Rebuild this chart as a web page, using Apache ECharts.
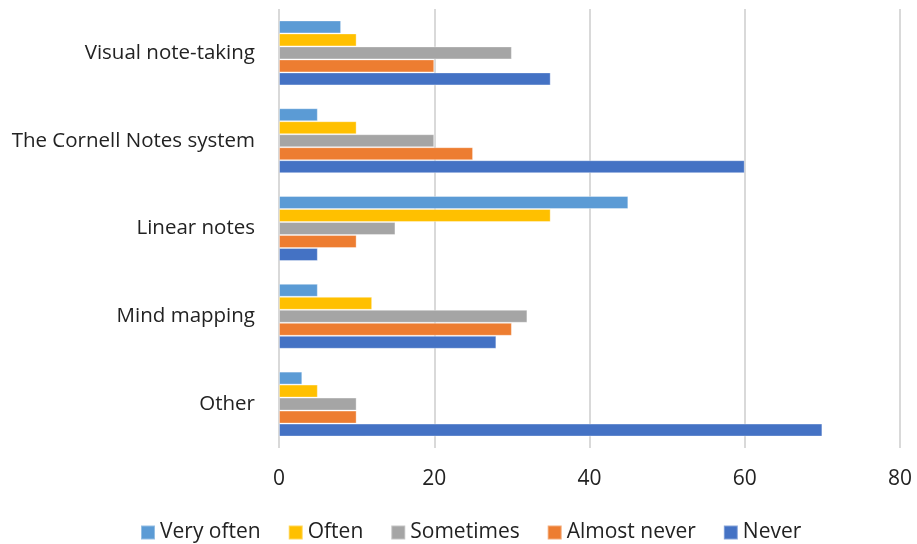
<!DOCTYPE html>
<html>
<head>
<meta charset="utf-8">
<script src="https://cdn.jsdelivr.net/npm/echarts@6/dist/echarts.min.js"></script>
<style>
  html, body { margin: 0; padding: 0; background: #fff; }
  #chart { width: 917px; height: 544px; }
</style>
</head>
<body>
<div id="chart"></div>
<script>
// categories bottom -> top (ECharts category axis starts at the bottom)
const categories = ['Other', 'Mind mapping', 'Linear notes', 'The Cornell Notes system', 'Visual note-taking']

const veryOften = [3, 5, 45, 5, 8]
const often = [5, 12, 35, 10, 10]
const sometimes = [10, 32, 15, 20, 30]
const almostNever = [10, 30, 10, 25, 20]
const never = [70, 28, 5, 60, 35]

const legendOrder = ['Very often', 'Often', 'Sometimes', 'Almost never', 'Never']

const font = '"Open Sans", Lato, sans-serif'

const chart = echarts.init(document.getElementById('chart'))

const bar = (name, data, color) => ({
  name,
  type: 'bar',
  data,
  barGap: '0%',
  barCategoryGap: '26%',
  itemStyle: { color, borderColor: 'rgba(255,255,255,0.35)', borderWidth: 1 }
})

chart.setOption({
  animation: false,
  textStyle: { fontFamily: font },
  grid: { left: 279, right: 17, top: 9, bottom: 96 },
  legend: {
    data: legendOrder,
    top: 522,
    left: 140,
    padding: 0,
    itemWidth: 14,
    itemHeight: 14,
    itemGap: 27,
    icon: 'rect',
    textStyle: { fontSize: 21, color: '#222', fontFamily: font }
  },
  xAxis: {
    type: 'value',
    min: 0,
    max: 80,
    interval: 20,
    axisLine: { show: false },
    axisTick: { show: false },
    axisLabel: { fontSize: 21, color: '#222', margin: 21 },
    splitLine: { lineStyle: { color: '#d9d9d9', width: 2 } }
  },
  yAxis: {
    type: 'category',
    data: categories,
    axisLine: { show: false },
    axisTick: { show: false },
    axisLabel: { fontSize: 20.5, color: '#222', margin: 24 }
  },
  series: [
    bar('Very often', veryOften, '#5B9BD5'),
    bar('Often', often, '#FFC000'),
    bar('Sometimes', sometimes, '#A5A5A5'),
    bar('Almost never', almostNever, '#ED7D31'),
    bar('Never', never, '#4472C4')
  ]
})
</script>
</body>
</html>
